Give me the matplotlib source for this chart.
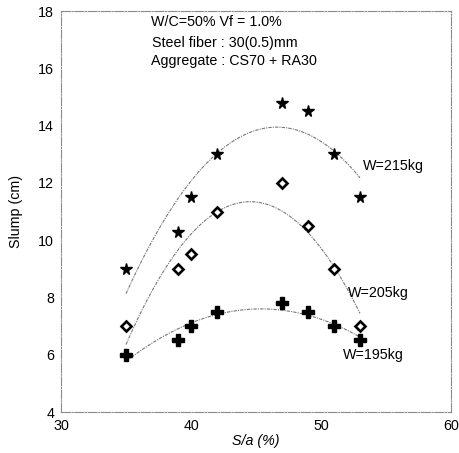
import numpy as np
import matplotlib
matplotlib.use("Agg")
import matplotlib.pyplot as plt

plt.rcParams['font.family'] = ['Liberation Sans', 'DejaVu Sans']

# Sand-to-aggregate ratio S/a (%)
sa = [35, 39, 40, 42, 47, 49, 51, 53]
# Slump (cm) for each unit water content
slump_215 = [9.0, 10.3, 11.5, 13.0, 14.8, 14.5, 13.0, 11.5]
slump_205 = [7.0, 9.0, 9.5, 11.0, 12.0, 10.5, 9.0, 7.0]
slump_195 = [6.0, 6.5, 7.0, 7.5, 7.8, 7.5, 7.0, 6.5]

series_labels = ["W=215kg", "W=205kg", "W=195kg"]
x_ticks = [30, 40, 50, 60]
y_ticks = [4, 6, 8, 10, 12, 14, 16, 18]

FS = 10.3

fig = plt.figure(figsize=(4.59, 4.53), dpi=100)
ax = fig.add_axes([0.1329, 0.0905, 0.8497, 0.8852])

ax.set_xlim(30, 60)
ax.set_ylim(4, 18)
ax.set_xticks(x_ticks)
ax.set_yticks(y_ticks)
ax.tick_params(length=0, labelsize=FS, pad=5)

for s in ax.spines.values():
    s.set_color('#8a8a8a')
    s.set_linewidth(0.8)
    s.set_linestyle((0, (8, 1.5, 1, 1.5)))

# Quadratic trend curves
xs = np.linspace(min(sa), max(sa), 200)
for ys in (slump_215, slump_205, slump_195):
    c = np.polyfit(sa, ys, 2)
    ax.plot(xs, np.polyval(c, xs), color='#777777', lw=0.8,
            ls=(0, (3, 1, 1, 1)), zorder=2)

ax.plot(sa, slump_215, ls='none', marker='*', ms=8.5, color='black', zorder=3)
ax.plot(sa, slump_205, ls='none', marker='D', ms=5, mfc='white',
        mec='black', mew=1.9, zorder=3)
ax.plot(sa, slump_195, ls='none', marker='P', ms=8, color='black', zorder=3)

ax.text(53.2, 12.6, series_labels[0], fontsize=FS, va='center', ha='left')
ax.text(52.1, 8.15, series_labels[1], fontsize=FS, va='center', ha='left')
ax.text(51.7, 6.0, series_labels[2], fontsize=FS, va='center', ha='left')

ax.text(36.9, 17.6, "W/C=50% Vf = 1.0%", fontsize=FS, va='center', ha='left')
ax.text(37.0, 16.9, "Steel fiber : 30(0.5)mm", fontsize=FS, va='center', ha='left')
ax.text(36.9, 16.27, "Aggregate : CS70 + RA30", fontsize=FS, va='center', ha='left')

ax.set_xlabel("S/a (%)", fontsize=FS, style='italic', labelpad=1)
ax.set_ylabel("Slump (cm)", fontsize=FS, labelpad=11)

fig.savefig("out.png", dpi=100)
